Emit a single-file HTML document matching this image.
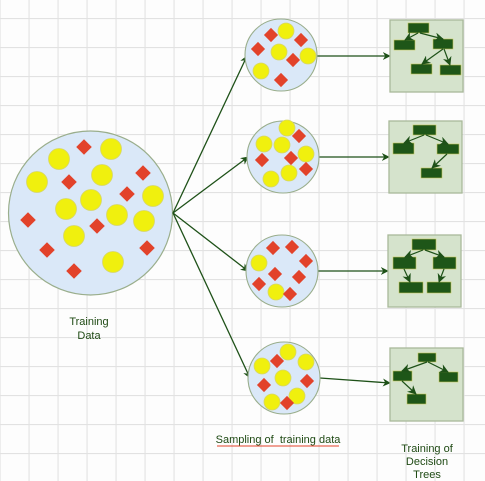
<!DOCTYPE html>
<html><head><meta charset="utf-8"><style>
html,body{margin:0;padding:0;background:#fdfdfd;}
svg{display:block;font-family:"Liberation Sans",sans-serif;}
</style></head><body>
<svg width="485" height="481" viewBox="0 0 485 481" xmlns="http://www.w3.org/2000/svg">
<defs>
<pattern id="g" x="28.5" y="18" width="29" height="29" patternUnits="userSpaceOnUse">
<path d="M0.5 0V29M0 0.5H29" stroke="#e2e2e2" stroke-width="1.2" fill="none"/>
</pattern>
<marker id="a" viewBox="0 0 10 10" refX="9" refY="5" markerWidth="8" markerHeight="8" orient="auto" markerUnits="userSpaceOnUse"><path d="M0 0L10 5L0 10L3 5Z" fill="#1e5118"/></marker>
<marker id="t" viewBox="0 0 10 10" refX="9" refY="5" markerWidth="9" markerHeight="9" orient="auto" markerUnits="userSpaceOnUse"><path d="M0 0L10 5L0 10L3 5Z" fill="#1e5118"/></marker>
<g id="c"><circle r="10.5" fill="#f0f00e" stroke="#d6d66a" stroke-width="0.8"/></g>
<g id="d"><rect x="-5.5" y="-5.5" width="11" height="11" transform="rotate(45)" fill="#e2422a"/></g>
<g id="sc"><circle r="8" fill="#f0f00e" stroke="#d6d66a" stroke-width="0.8"/></g>
<g id="sd"><rect x="-5" y="-5" width="10" height="10" transform="rotate(45)" fill="#e2422a"/></g>
</defs>
<rect width="485" height="481" fill="url(#g)"/>

<circle cx="90.5" cy="213" r="82" fill="#dae8f8" stroke="#9aae8c" stroke-width="1.2"/>
<use href="#c" x="59" y="159"/><use href="#c" x="111" y="149"/><use href="#c" x="37" y="182"/>
<use href="#c" x="102" y="175"/><use href="#c" x="153" y="196"/><use href="#c" x="66" y="209"/>
<use href="#c" x="91" y="200"/><use href="#c" x="117" y="215"/><use href="#c" x="144" y="221"/>
<use href="#c" x="74" y="236"/><use href="#c" x="113" y="262"/>
<use href="#d" x="84" y="147"/><use href="#d" x="143" y="173"/><use href="#d" x="69" y="182"/>
<use href="#d" x="127" y="194"/><use href="#d" x="28" y="220"/><use href="#d" x="97" y="226"/>
<use href="#d" x="47" y="250"/><use href="#d" x="147" y="248"/><use href="#d" x="74" y="271"/>

<g stroke="#1e5118" stroke-width="1.3" fill="none">
<line x1="173" y1="213" x2="247" y2="56" marker-end="url(#a)"/>
<line x1="173" y1="213" x2="248" y2="157" marker-end="url(#a)"/>
<line x1="173" y1="213" x2="248" y2="271" marker-end="url(#a)"/>
<line x1="173" y1="213" x2="250" y2="378" marker-end="url(#a)"/>
<line x1="317" y1="56" x2="390" y2="56" marker-end="url(#a)"/>
<line x1="319" y1="157" x2="389" y2="157" marker-end="url(#a)"/>
<line x1="318" y1="271" x2="388" y2="271" marker-end="url(#a)"/>
<line x1="320" y1="378" x2="390" y2="383" marker-end="url(#a)"/>
</g>

<g fill="#dae8f8" stroke="#9aae8c" stroke-width="1.1">
<circle cx="281" cy="55" r="36"/><circle cx="283" cy="157" r="36"/>
<circle cx="282" cy="271" r="36"/><circle cx="284" cy="378" r="36"/>
</g>
<use href="#sc" x="286" y="31"/><use href="#sc" x="279" y="52"/><use href="#sc" x="308" y="56"/><use href="#sc" x="261" y="71"/>
<use href="#sd" x="271" y="35"/><use href="#sd" x="301" y="40"/><use href="#sd" x="258" y="49"/><use href="#sd" x="293" y="60"/><use href="#sd" x="281" y="80"/>

<use href="#sc" x="287" y="128"/><use href="#sc" x="264" y="144"/><use href="#sc" x="282" y="145"/><use href="#sc" x="306" y="154"/><use href="#sc" x="289" y="173"/><use href="#sc" x="271" y="179"/>
<use href="#sd" x="299" y="136"/><use href="#sd" x="262" y="160"/><use href="#sd" x="291" y="158"/><use href="#sd" x="306" y="169"/>

<use href="#sc" x="259" y="263"/><use href="#sc" x="276" y="292"/>
<use href="#sd" x="273" y="248"/><use href="#sd" x="292" y="247"/><use href="#sd" x="306" y="261"/><use href="#sd" x="275" y="274"/><use href="#sd" x="299" y="277"/><use href="#sd" x="259" y="284"/><use href="#sd" x="290" y="294"/>

<use href="#sc" x="288" y="352"/><use href="#sc" x="262" y="366"/><use href="#sc" x="306" y="362"/><use href="#sc" x="283" y="378"/><use href="#sc" x="297" y="396"/><use href="#sc" x="272" y="402"/>
<use href="#sd" x="277" y="361"/><use href="#sd" x="264" y="385"/><use href="#sd" x="307" y="381"/><use href="#sd" x="287" y="403"/>

<g fill="#d5e3cc" stroke="#a8b99a" stroke-width="1.3">
<rect x="390" y="20" width="73" height="72"/><rect x="389" y="121" width="73" height="72"/>
<rect x="388" y="235" width="73" height="72"/><rect x="390" y="348" width="73" height="73"/>
</g>
<g fill="#1e5618" stroke="#c9c95a" stroke-width="0.6">
<rect x="408" y="23" width="21" height="10"/><rect x="394" y="40" width="21" height="10"/><rect x="433" y="39" width="20" height="10"/><rect x="411" y="64" width="21" height="10"/><rect x="440" y="65" width="21" height="10"/>
<rect x="413" y="125" width="23" height="10"/><rect x="393" y="143" width="21" height="11"/><rect x="437" y="144" width="22" height="10"/><rect x="421" y="168" width="21" height="10"/>
<rect x="412" y="239" width="24" height="11"/><rect x="393" y="257" width="23" height="12"/><rect x="433" y="257" width="23" height="12"/><rect x="399" y="282" width="24" height="11"/><rect x="427" y="282" width="24" height="11"/>
<rect x="418" y="353" width="18" height="9"/><rect x="393" y="371" width="19" height="10"/><rect x="439" y="372" width="19" height="10"/><rect x="407" y="394" width="19" height="10"/>
</g>
<g stroke="#1e5118" stroke-width="1.2" fill="none">
<line x1="418" y1="33" x2="405" y2="40" marker-end="url(#t)"/><line x1="420" y1="33" x2="443" y2="39" marker-end="url(#t)"/>
<line x1="443" y1="49" x2="422" y2="64" marker-end="url(#t)"/><line x1="444" y1="49" x2="450" y2="65" marker-end="url(#t)"/>
<line x1="424" y1="135" x2="404" y2="143" marker-end="url(#t)"/><line x1="426" y1="135" x2="448" y2="144" marker-end="url(#t)"/>
<line x1="447" y1="154" x2="432" y2="168" marker-end="url(#t)"/>
<line x1="423" y1="250" x2="405" y2="257" marker-end="url(#t)"/><line x1="425" y1="250" x2="444" y2="257" marker-end="url(#t)"/>
<line x1="404" y1="269" x2="410" y2="282" marker-end="url(#t)"/><line x1="444" y1="269" x2="439" y2="282" marker-end="url(#t)"/>
<line x1="427" y1="362" x2="402" y2="371" marker-end="url(#t)"/><line x1="428" y1="362" x2="448" y2="372" marker-end="url(#t)"/>
<line x1="402" y1="381" x2="416" y2="394" marker-end="url(#t)"/>
</g>

<g fill="#1f4a14" font-size="11" text-anchor="middle">
<text x="89" y="325">Training</text><text x="89" y="339">Data</text>
<text x="427" y="452">Training of</text><text x="427" y="465">Decision</text><text x="427" y="478">Trees</text>
<text x="278" y="443">Sampling of&#160; training data</text>
</g>
<line x1="217" y1="446" x2="339" y2="446" stroke="#e2422a" stroke-width="1"/>
</svg>
</body></html>
